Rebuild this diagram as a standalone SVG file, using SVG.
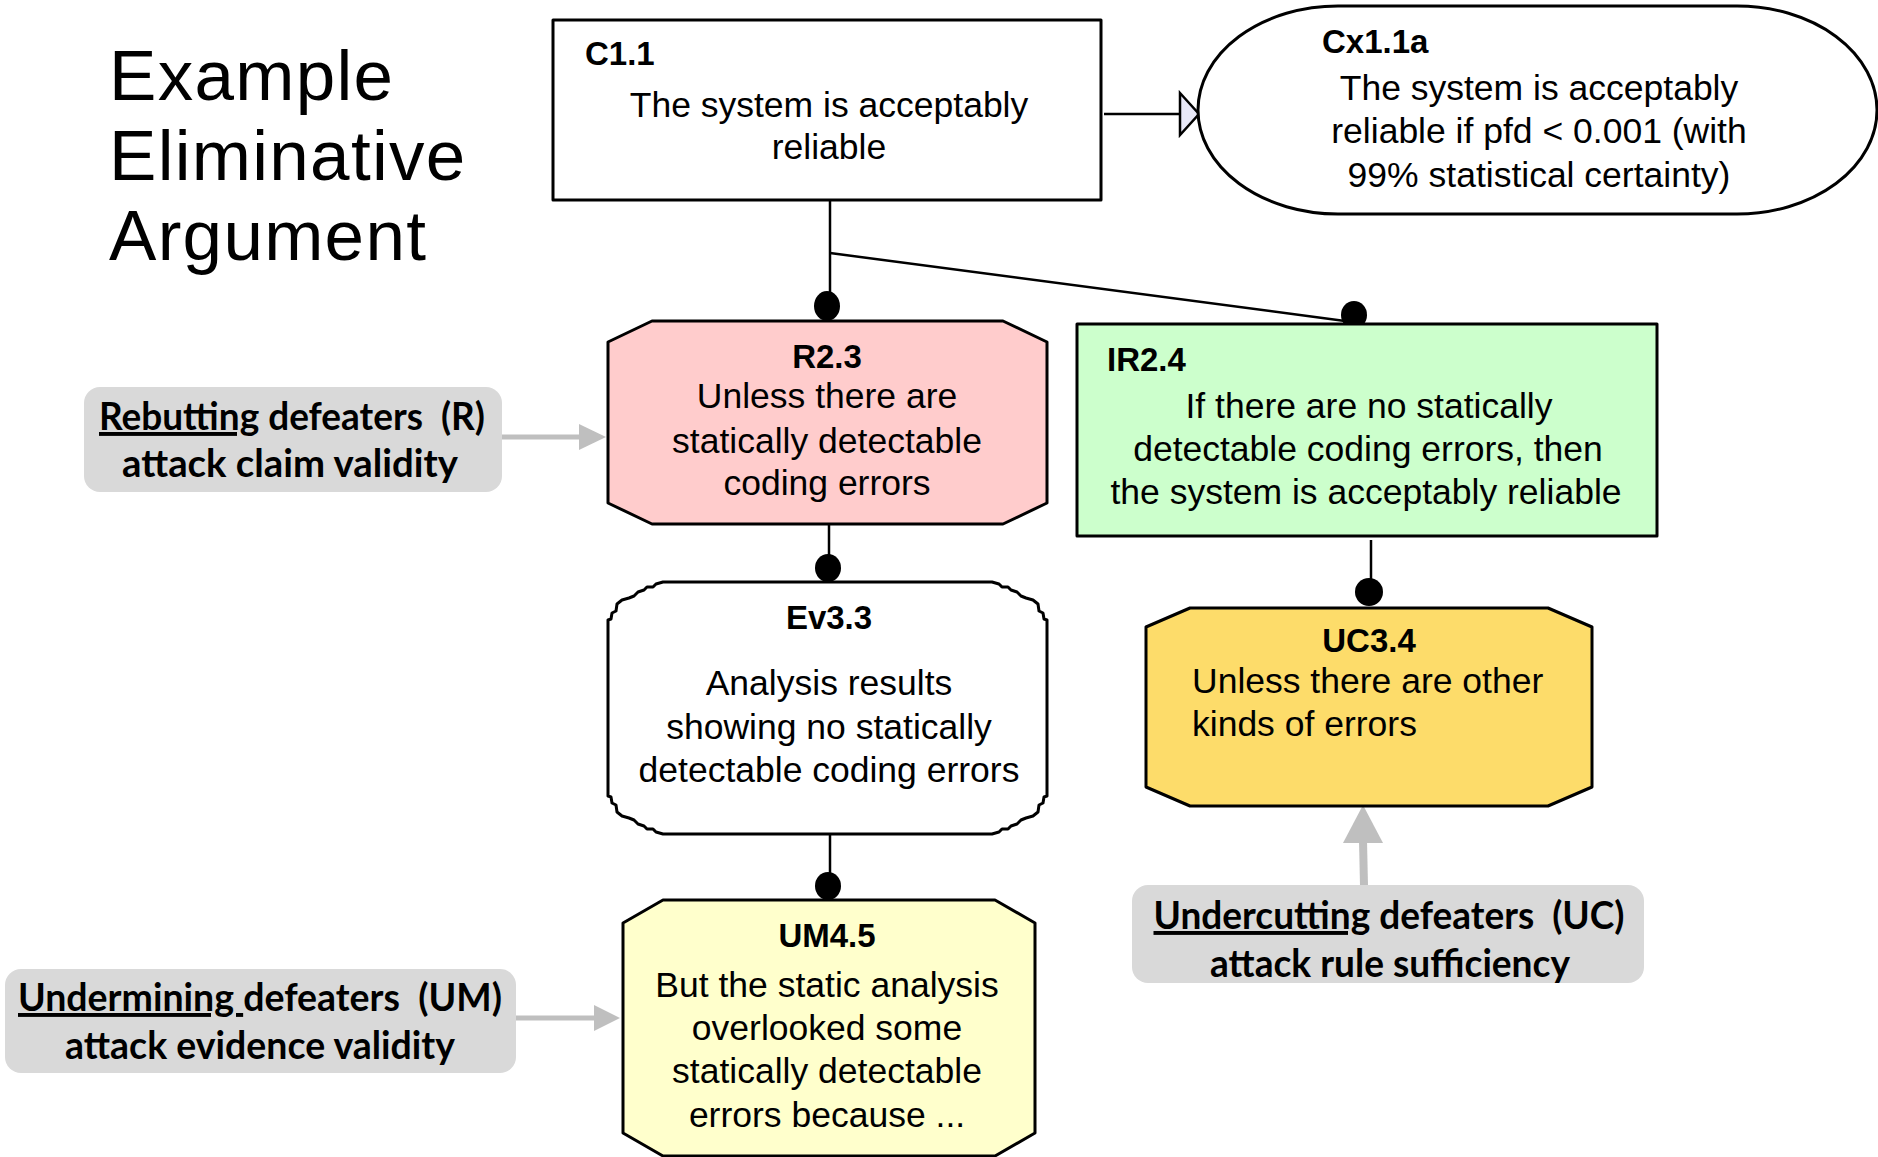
<svg xmlns="http://www.w3.org/2000/svg" width="1878" height="1157" viewBox="0 0 1878 1157">
<style>
.node{stroke:#000;stroke-width:3;stroke-linejoin:round}
.t{font-family:"Liberation Sans",Arial,sans-serif;font-size:35.5px;fill:#000}
.c{text-anchor:middle}
.b{font-family:"Liberation Sans",Arial,sans-serif;font-size:33px;font-weight:bold;fill:#000}
.lab{font-family:Lato,"Open Sans",sans-serif;font-weight:bold;font-size:39px;fill:#000;text-anchor:middle}
.u{text-decoration:underline}
.gbox{fill:#d9d9d9}
.ln{stroke:#000;stroke-width:2.5;fill:none}
.gl{stroke:#bfbfbf;fill:none}
.dot{fill:#000}
.ttl{font-family:"Liberation Sans",Arial,sans-serif;font-size:71px;letter-spacing:1.3px;fill:#000}
</style>
<rect width="1878" height="1157" fill="#fff"/>

<g id="title">
<text class="ttl" x="109" y="100">Example</text>
<text class="ttl" x="109" y="180">Eliminative</text>
<text class="ttl" x="109" y="260">Argument</text>
</g>

<g id="connectors">
<line class="ln" x1="1104" y1="114" x2="1181" y2="114"/>
<polygon points="1180,93 1199,114 1180,135" fill="#e8e8f8" stroke="#000" stroke-width="2.5" stroke-linejoin="miter"/>
<line class="ln" x1="830" y1="201" x2="830" y2="300"/>
<ellipse class="dot" cx="827" cy="306" rx="13" ry="15"/>
<line class="ln" x1="830" y1="253" x2="1345" y2="321"/>
<ellipse class="dot" cx="1354" cy="315" rx="13" ry="14"/>
<line class="ln" x1="829" y1="525" x2="829" y2="562"/>
<ellipse class="dot" cx="828" cy="568" rx="13" ry="14"/>
<line class="ln" x1="830" y1="835" x2="830" y2="880"/>
<ellipse class="dot" cx="828" cy="886" rx="13" ry="14"/>
<line class="ln" x1="1371" y1="540" x2="1371" y2="586"/>
<ellipse class="dot" cx="1369" cy="592" rx="14" ry="14"/>
<line class="gl" stroke-width="5" x1="502" y1="437" x2="582" y2="437"/>
<polygon points="579,424 606,437 579,450" fill="#bfbfbf"/>
<line class="gl" stroke-width="5" x1="516" y1="1018" x2="597" y2="1018"/>
<polygon points="594,1005 620,1018 594,1031" fill="#bfbfbf"/>
<line class="gl" stroke-width="8" x1="1364" y1="886" x2="1363" y2="840"/>
<polygon points="1343,843 1363,805 1383,843" fill="#bfbfbf"/>
</g>

<g id="C1.1">
<rect class="node" x="553" y="20" width="548" height="180" fill="#fff"/>
<text class="b" x="585" y="65">C1.1</text>
<text class="t c" x="829" y="117">The system is acceptably</text>
<text class="t c" x="829" y="159">reliable</text>
</g>

<g id="Cx1.1a">
<rect class="node" x="1198" y="6" width="679" height="208" rx="140" ry="104" fill="#fff"/>
<text class="b" x="1322" y="53">Cx1.1a</text>
<text class="t c" x="1539" y="100">The system is acceptably</text>
<text class="t c" x="1539" y="143">reliable if pfd &lt; 0.001 (with</text>
<text class="t c" x="1539" y="187">99% statistical certainty)</text>
</g>

<g id="R2.3">
<polygon class="node" points="652,321 1003,321 1047,342 1047,503 1003,524 652,524 608,503 608,342" fill="#ffcccc"/>
<text class="b c" x="827" y="368">R2.3</text>
<text class="t c" x="827" y="408">Unless there are</text>
<text class="t c" x="827" y="453">statically detectable</text>
<text class="t c" x="827" y="495">coding errors</text>
</g>

<g id="IR2.4">
<rect class="node" x="1077" y="324" width="580" height="212" fill="#ccffcc"/>
<text class="b" x="1107" y="371">IR2.4</text>
<text class="t c" x="1369" y="418">If there are no statically</text>
<text class="t c" x="1368" y="461">detectable coding errors, then</text>
<text class="t c" x="1366" y="504">the system is acceptably reliable</text>
</g>

<g id="Ev3.3">
<path class="node" fill="#fff" d="M663,582 L992,582 L999,584 L1002,587 L1008,587 L1011,590 L1017,592 L1021,596 L1026,598 L1033,600 L1038,604 L1039,611 L1043,613 L1044,619 L1047,620 L1047,796 L1044,797 L1043,803 L1039,805 L1038,812 L1033,816 L1026,818 L1021,820 L1017,824 L1011,826 L1008,829 L1002,829 L999,832 L992,834 L663,834 L656,832 L653,829 L647,829 L644,826 L638,824 L634,820 L629,818 L622,816 L617,812 L616,805 L612,803 L611,797 L608,796 L608,620 L611,619 L612,613 L616,611 L617,604 L622,600 L629,598 L634,596 L638,592 L644,590 L647,587 L653,587 L656,584 Z"/>
<text class="b c" x="829" y="629">Ev3.3</text>
<text class="t c" x="829" y="695">Analysis results</text>
<text class="t c" x="829" y="739">showing no statically</text>
<text class="t c" x="829" y="782">detectable coding errors</text>
</g>

<g id="UC3.4">
<polygon class="node" points="1190,608 1548,608 1592,627 1592,787 1548,806 1190,806 1146,787 1146,627" fill="#fddc6a"/>
<text class="b c" x="1369" y="652">UC3.4</text>
<text class="t" x="1192" y="693">Unless there are other</text>
<text class="t" x="1192" y="736">kinds of errors</text>
</g>

<g id="UM4.5">
<polygon class="node" points="663,900 995,900 1035,923 1035,1133 995,1156 663,1156 623,1133 623,923" fill="#ffffcc"/>
<text class="b c" x="827" y="947">UM4.5</text>
<text class="t c" x="827" y="997">But the static analysis</text>
<text class="t c" x="827" y="1040">overlooked some</text>
<text class="t c" x="827" y="1083">statically detectable</text>
<text class="t c" x="827" y="1127">errors because ...</text>
</g>

<g id="label-rebutting">
<rect class="gbox" x="84" y="387" width="418" height="105" rx="16"/>
<text class="lab" x="292" y="430" textLength="386" lengthAdjust="spacingAndGlyphs"><tspan class="u">Rebutting</tspan> defeaters&#160; (R)</text>
<text class="lab" x="290" y="477" textLength="336" lengthAdjust="spacingAndGlyphs">attack claim validity</text>
</g>

<g id="label-undermining">
<rect class="gbox" x="5" y="969" width="511" height="104" rx="16"/>
<text class="lab" x="260" y="1011" textLength="484" lengthAdjust="spacingAndGlyphs"><tspan class="u">Undermining </tspan>defeaters&#160; (UM)</text>
<text class="lab" x="260" y="1059" textLength="390" lengthAdjust="spacingAndGlyphs">attack evidence validity</text>
</g>

<g id="label-undercutting">
<rect class="gbox" x="1132" y="885" width="512" height="98" rx="16"/>
<text class="lab" x="1389" y="929" textLength="471" lengthAdjust="spacingAndGlyphs"><tspan class="u">Undercutting</tspan> defeaters&#160; (UC)</text>
<text class="lab" x="1390" y="977" textLength="360" lengthAdjust="spacingAndGlyphs">attack rule sufficiency</text>
</g>
</svg>
